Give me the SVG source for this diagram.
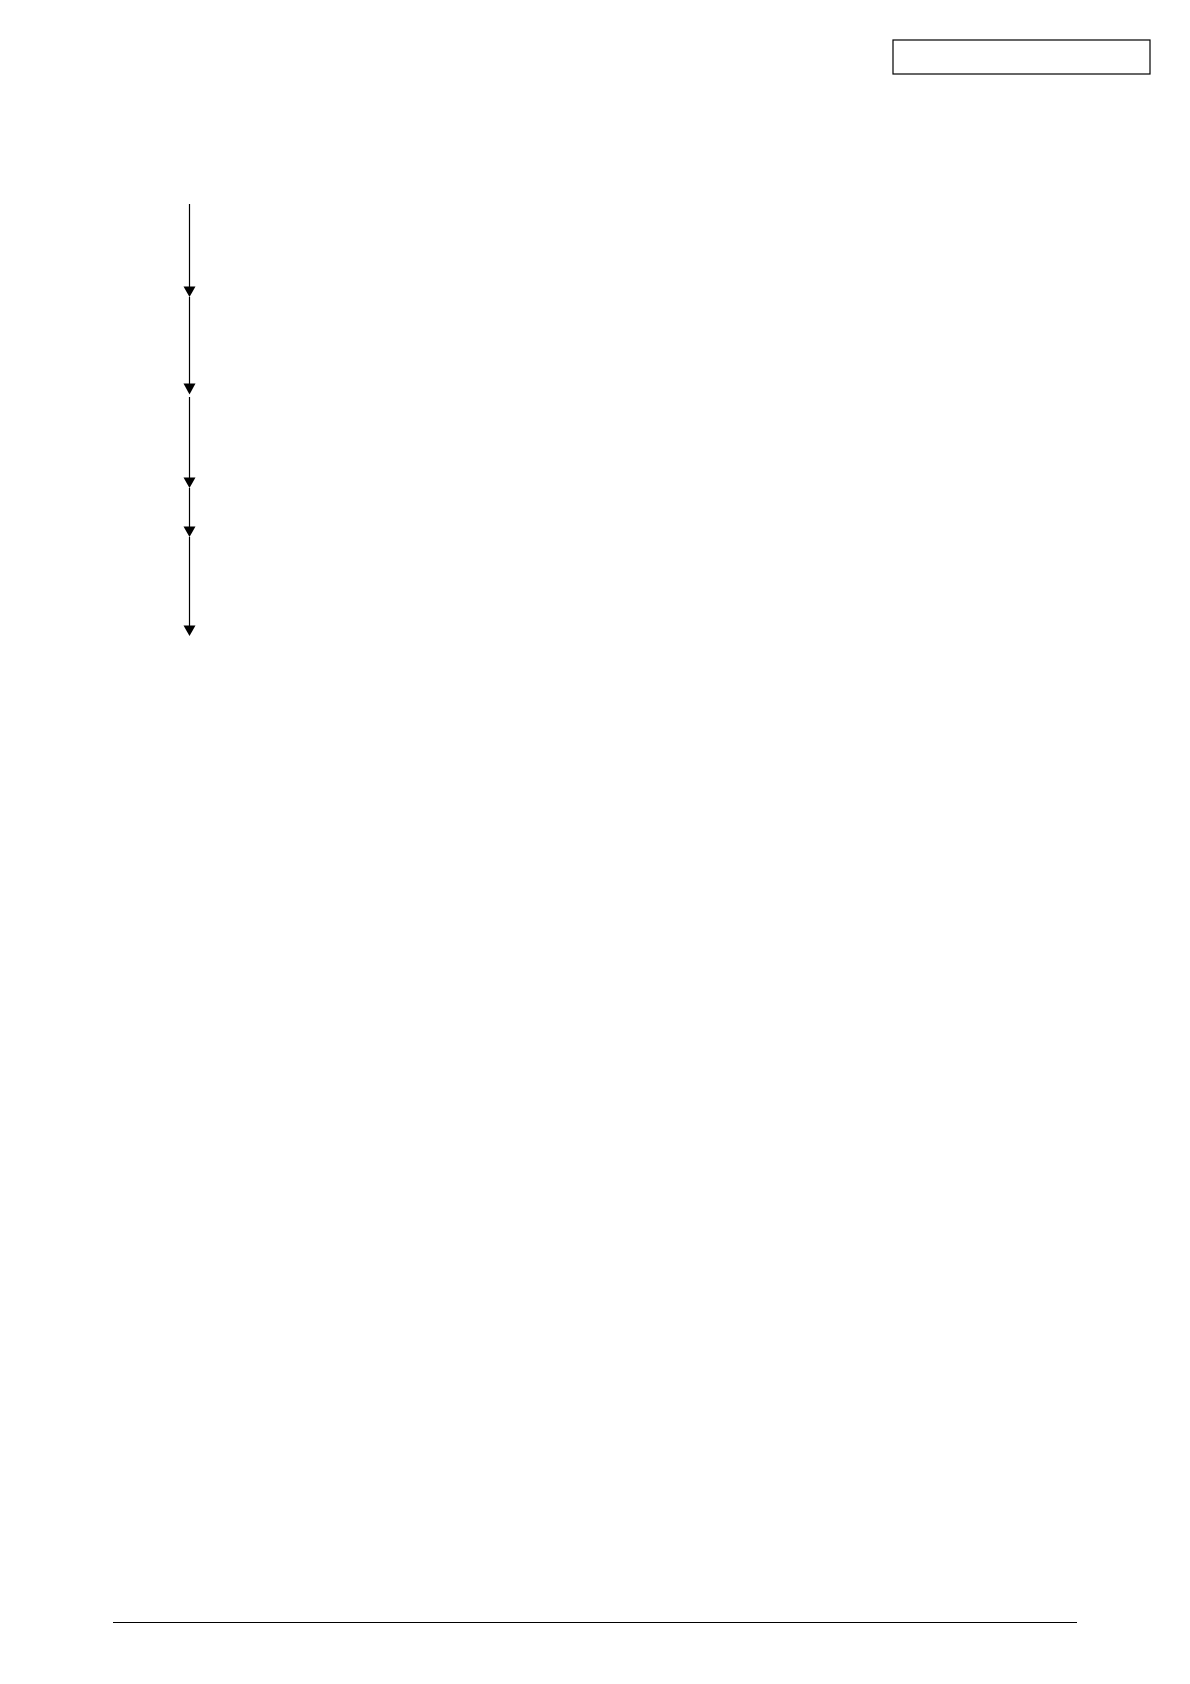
<svg xmlns="http://www.w3.org/2000/svg" width="1190" height="1684" viewBox="0 0 1190 1684">
<style>
.ln{stroke:#000;stroke-width:1.2;fill:none}
</style>
<defs>
<marker id="ah" markerUnits="userSpaceOnUse" markerWidth="12" markerHeight="11" viewBox="0 0 12 11" refX="6" refY="11" orient="auto-start-reverse">
<path d="M0,0 L12,0 L6,11 Z" fill="#000" transform="rotate(-90 6 5.5) translate(0.25 0)"/>
</marker>
</defs>
<rect width="1190" height="1684" fill="#fff"/>
<g id="header-box"><rect class="ln" x="893" y="40" width="257" height="34"/></g>
<g id="connectors">
<line class="ln" x1="189.5" y1="204" x2="189.5" y2="288"/>
<polygon points="183.5,286.5 195.5,286.5 189.5,297" fill="#000"/>
<line class="ln" x1="189.5" y1="297" x2="189.5" y2="385"/>
<polygon points="183.5,383.5 195.5,383.5 189.5,394.5" fill="#000"/>
<line class="ln" x1="189.5" y1="397" x2="189.5" y2="479"/>
<polygon points="183.5,477.5 195.5,477.5 189.5,488" fill="#000"/>
<line class="ln" x1="189.5" y1="488" x2="189.5" y2="528"/>
<polygon points="183.5,526.5 195.5,526.5 189.5,537" fill="#000"/>
<line class="ln" x1="189.5" y1="537" x2="189.5" y2="627"/>
<polygon points="183.5,625.5 195.5,625.5 189.5,636" fill="#000"/>
</g>
<g id="footer-rule"><line class="ln" x1="113" y1="1622.5" x2="1077" y2="1622.5"/></g>
</svg>
